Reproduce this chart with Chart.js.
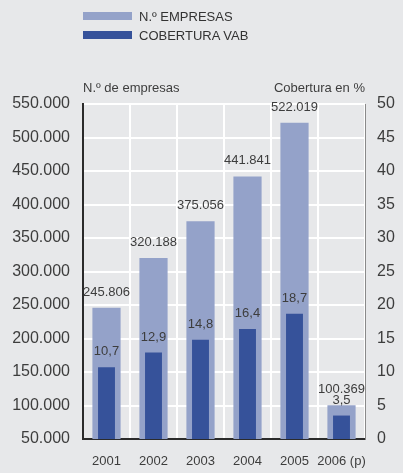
<!DOCTYPE html>
<html>
<head>
<meta charset="utf-8">
<script src="https://cdn.jsdelivr.net/npm/chart.js@4/dist/chart.umd.min.js"></script>
<style>
  html, body { margin: 0; padding: 0; background: #e7e8ea; }
  #wrap { position: relative; width: 403px; height: 473px; }
  .leg { position: absolute; left: 83px; font: 13px "Liberation Sans", Arial, sans-serif; color: #333; }
  .leg span { display: inline-block; width: 49px; height: 8px; margin-right: 7px; vertical-align: 1px; }
</style>
</head>
<body>
<div id="wrap">
  <div class="leg" style="top:9px"><span style="background:#94a2c9"></span>N.º EMPRESAS</div>
  <div class="leg" style="top:28px"><span style="background:#36529a"></span>COBERTURA VAB</div>
  <canvas id="myChart" width="403" height="473"></canvas>
</div>
<script>
const years = ["2001", "2002", "2003", "2004", "2005", "2006 (p)"];
const empresas = [245806, 320188, 375056, 441841, 522019, 100369];
const cobertura = [10.7, 12.9, 14.8, 16.4, 18.7, 3.5];
const empresasLabels = ["245.806", "320.188", "375.056", "441.841", "522.019", "100.369"];
const coberturaLabels = ["10,7", "12,9", "14,8", "16,4", "18,7", "3,5"];

const font = "Liberation Sans, Arial, sans-serif";

// value labels above bars + axis titles
const labelsPlugin = {
  id: "labels",
  afterDatasetsDraw(chart) {
    const ctx = chart.ctx;
    ctx.save();
    ctx.font = "13px " + font;
    ctx.fillStyle = "#3d3d3d";
    ctx.textAlign = "center";
    ctx.textBaseline = "alphabetic";
    const lists = [empresasLabels, coberturaLabels];
    chart.data.datasets.forEach((ds, i) => {
      chart.getDatasetMeta(i).data.forEach((bar, j) => {
        ctx.fillText(lists[i][j], bar.x, bar.y - 12);
      });
    });
    const a = chart.chartArea;
    ctx.textAlign = "left";
    ctx.fillText("N.º de empresas", a.left, 92);
    ctx.textAlign = "right";
    ctx.fillText("Cobertura en %", a.right, 92);
    ctx.restore();
  }
};

const config = {
  type: "bar",
  data: {
    labels: years,
    datasets: [
      {
        label: "N.º EMPRESAS",
        data: empresas,
        backgroundColor: "#94a2c9",
        yAxisID: "y",
        grouped: false,
        barPercentage: 0.6,
        categoryPercentage: 1,
        order: 2
      },
      {
        label: "COBERTURA VAB",
        data: cobertura,
        backgroundColor: "#36529a",
        yAxisID: "y1",
        grouped: false,
        barPercentage: 0.36,
        categoryPercentage: 1,
        order: 1
      }
    ]
  },
  options: {
    responsive: false,
    animation: false,
    layout: { padding: { top: 104, left: 0, right: 0, bottom: 0 } },
    plugins: { legend: { display: false }, tooltip: { enabled: false } },
    scales: {
      x: {
        grid: { color: "#ffffff", lineWidth: 2, drawTicks: false, offset: true },
        border: { color: "#2b2b2b", width: 2 },
        ticks: { color: "#3d3d3d", font: { family: font, size: 13 }, padding: 15, maxRotation: 0, autoSkip: false },
        afterFit(s) { s.height = 34; }
      },
      y: {
        position: "left",
        min: 50000,
        max: 550000,
        grid: { color: "#ffffff", lineWidth: 2, drawTicks: false },
        border: { color: "#2b2b2b", width: 2 },
        ticks: {
          stepSize: 50000,
          color: "#3d3d3d",
          font: { family: font, size: 16 },
          padding: 13,
          callback: v => v.toLocaleString("de-DE")
        },
        afterFit(s) { s.width = 83; }
      },
      y1: {
        position: "right",
        min: 0,
        max: 50,
        grid: { display: false, drawTicks: false },
        border: { color: "#8a8a8a", width: 1 },
        ticks: { stepSize: 5, color: "#3d3d3d", font: { family: font, size: 16 }, padding: 12 },
        afterFit(s) { s.width = 38; }
      }
    }
  },
  plugins: [labelsPlugin]
};

const myChart = new Chart(document.getElementById("myChart"), config);
</script>
</body>
</html>
